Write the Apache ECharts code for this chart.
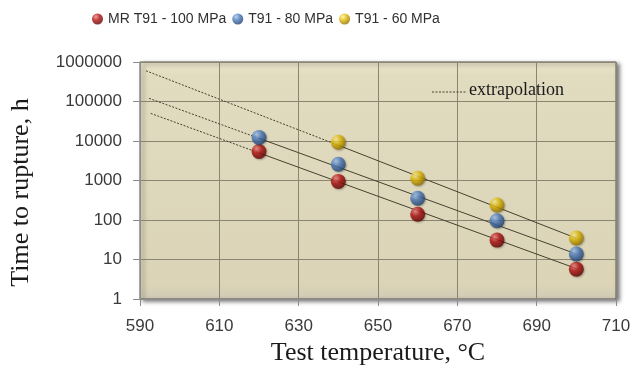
<!DOCTYPE html>
<html><head><meta charset="utf-8">
<script src="https://cdn.jsdelivr.net/npm/echarts@6/dist/echarts.min.js"></script>
<style>html,body{margin:0;padding:0;background:#fff}#c{width:636px;height:368px}</style>
</head><body><div id="c"></div>
<script>
// ---- data ----
const seriesNames = ['MR T91 - 100 MPa', 'T91 - 80 MPa', 'T91 - 60 MPa'];
const temps100 = [620, 640, 660, 680, 700];
const vals100  = [5400, 950, 140, 31, 5.7];
const temps80  = [620, 640, 660, 680, 700];
const vals80   = [12300, 2570, 355, 96, 13.8];
const temps60  = [640, 660, 680, 700];
const vals60   = [9300, 1140, 240, 35];
// trend lines (fit): [start temp, end temp] and values
const fitTemps100 = [620, 700]; const fitVals100 = [5000, 5.9];
const fitTemps80  = [620, 700]; const fitVals80  = [11700, 13.8];
const fitTemps60  = [640, 700]; const fitVals60  = [7800, 34.6];
// extrapolation segments
const extTemps100 = [592.7, 620]; const extVals100 = [50000, 5000];
const extTemps80  = [592.3, 620]; const extVals80  = [120000, 11700];
const extTemps60  = [591.5, 640]; const extVals60  = [600000, 7800];
const xTicks = [590, 610, 630, 650, 670, 690, 710];
const yTicks = [1, 10, 100, 1000, 10000, 100000, 1000000];

const zip = (a, b) => a.map((t, i) => [t, b[i]]);
function sphere(light, mid, dark) {
  return new echarts.graphic.RadialGradient(0.35, 0.3, 0.75, [
    {offset: 0, color: light}, {offset: 0.45, color: mid}, {offset: 1, color: dark}
  ]);
}
const colors = [
  sphere('#f08080', '#b01010', '#5a0000'),
  sphere('#a8c8f0', '#4a78b8', '#1e3d6a'),
  sphere('#fff3a0', '#e0b800', '#8a6a00')
];
const pts = [zip(temps100, vals100), zip(temps80, vals80), zip(temps60, vals60)];
const fits = [zip(fitTemps100, fitVals100), zip(fitTemps80, fitVals80), zip(fitTemps60, fitVals60)];
const exts = [zip(extTemps100, extVals100), zip(extTemps80, extVals80), zip(extTemps60, extVals60)];

const series = [];
for (let i = 0; i < 3; i++) {
  series.push({type: 'line', data: fits[i], showSymbol: false, silent: true, z: 2,
    lineStyle: {color: '#45412f', width: 1}});
  series.push({type: 'line', data: exts[i], showSymbol: false, silent: true, z: 2,
    lineStyle: {color: '#45412f', width: 1, type: [2, 1.5]}});
}
for (let i = 0; i < 3; i++) {
  series.push({name: seriesNames[i], type: 'scatter', data: pts[i], symbol: 'circle', symbolSize: 15, z: 5,
    itemStyle: {color: colors[i], shadowBlur: 2, shadowColor: 'rgba(0,0,0,0.35)', shadowOffsetX: 1, shadowOffsetY: 1}});
}

const chart = echarts.init(document.getElementById('c'), null, {renderer: 'canvas'});
chart.setOption({
  animation: false,
  backgroundColor: '#ffffff',
  legend: {
    data: seriesNames, left: 87, top: 7, itemGap: 6, itemWidth: 11, itemHeight: 11,
    icon: 'circle',
    textStyle: {fontFamily: 'Liberation Sans', fontSize: 14, color: '#303030'}
  },
  grid: {
    left: 140, right: 20, top: 62, bottom: 69, show: true,
    outerBoundsMode: 'none', containLabel: false,
    backgroundColor: new echarts.graphic.LinearGradient(0, 0, 0, 1, [
      {offset: 0, color: '#ebe5cb'}, {offset: 0.06, color: '#e1dbc0'}, {offset: 0.94, color: '#dbd4b7'}, {offset: 1, color: '#cfcab6'}
    ]),
    borderColor: '#5a5a50', borderWidth: 1,
    shadowColor: 'rgba(0,0,0,0.55)', shadowBlur: 4, shadowOffsetX: 3, shadowOffsetY: 2
  },
  xAxis: {
    type: 'value', min: 590, max: 710, interval: 20,
    name: 'Test temperature, °C', nameLocation: 'middle', nameGap: 40,
    nameTextStyle: {fontFamily: 'Liberation Serif', fontSize: 26, color: '#1a1a1a'},
    axisLine: {show: true, lineStyle: {color: '#8c8c8c'}},
    axisTick: {show: true, length: 7, lineStyle: {color: '#8c8c8c'}},
    axisLabel: {margin: 19, fontFamily: 'Liberation Sans', fontSize: 17, color: '#3a3a3a',
      formatter: v => xTicks.includes(v) ? String(v) : ''},
    splitLine: {show: true, lineStyle: {color: '#8a8470', width: 1}}
  },
  yAxis: {
    type: 'log', logBase: 10, min: 1, max: 1000000,
    name: 'Time to rupture, h', nameLocation: 'middle', nameGap: 106, nameRotate: 90,
    nameTextStyle: {fontFamily: 'Liberation Serif', fontSize: 26, color: '#1a1a1a', padding: [0, 24, 0, 0]},
    axisLine: {show: true, lineStyle: {color: '#8c8c8c'}},
    axisTick: {show: true, length: 7, lineStyle: {color: '#8c8c8c'}},
    axisLabel: {margin: 18, fontFamily: 'Liberation Sans', fontSize: 17, color: '#3a3a3a',
      formatter: v => { const r = Math.round(v); return yTicks.includes(r) ? String(r) : ''; }},
    splitLine: {show: true, lineStyle: {color: '#8a8470', width: 1}}
  },
  graphic: [
    {type: 'line', shape: {x1: 432, y1: 92, x2: 467, y2: 92}, style: {stroke: '#45412f', lineWidth: 1, lineDash: [2, 1.5]}, z: 10},
    {type: 'text', left: 469, top: 81, style: {text: 'extrapolation', font: '18px "Liberation Serif"', fill: '#1a1a1a'}, z: 10}
  ],
  series: series
});
</script>
</body></html>
